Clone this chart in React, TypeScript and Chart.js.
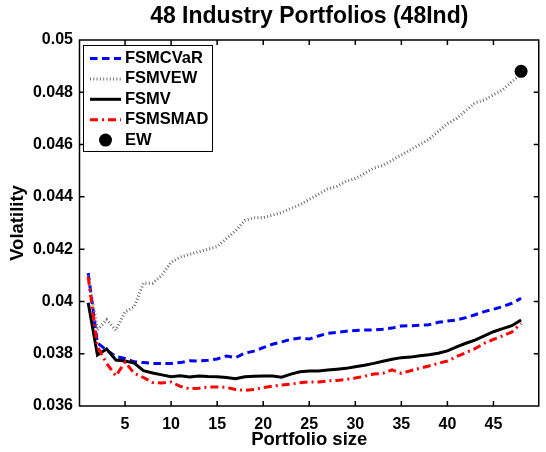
import { useEffect, useRef } from "react"
import { Chart, registerables } from "chart.js"

Chart.register(...registerables)

const FONT = "'Liberation Sans', Arial, Helvetica, sans-serif"

// portfolio sizes on the x axis
const sizes = [
  1, 2, 3, 4, 5, 6, 7, 8, 9, 10, 11, 12, 13, 14, 15, 16, 17, 18, 19, 20, 21, 22, 23, 24,
  25, 26, 27, 28, 29, 30, 31, 32, 33, 34, 35, 36, 37, 38, 39, 40, 41, 42, 43, 44, 45, 46, 47, 48,
]

// volatility
const fsmcvar = [
  0.04109, 0.03841, 0.03814, 0.03789, 0.03782, 0.03769, 0.03766, 0.03763, 0.03762, 0.03763,
  0.03766, 0.03773, 0.03772, 0.03775, 0.0378, 0.03791, 0.03785, 0.03802, 0.0381, 0.03823,
  0.03836, 0.03845, 0.03855, 0.0386, 0.03856, 0.03868, 0.03878, 0.03882, 0.03886, 0.03889,
  0.03891, 0.03891, 0.03894, 0.03898, 0.03906, 0.03907, 0.03909, 0.03911, 0.0392, 0.03925,
  0.03929, 0.03938, 0.03949, 0.03961, 0.0397, 0.0398, 0.03993, 0.04012,
]
const fsmvew = [
  0.041, 0.0389, 0.0393, 0.0389, 0.0396, 0.0398, 0.0407, 0.0407, 0.041, 0.0415,
  0.0417, 0.0418, 0.0419, 0.042, 0.0421, 0.0424, 0.0427, 0.0431, 0.0432, 0.0432,
  0.0433, 0.0434, 0.04356, 0.0437, 0.0439, 0.0441, 0.0443, 0.0444, 0.0446, 0.0447,
  0.0449, 0.0451, 0.0452, 0.0454, 0.0456, 0.0458, 0.046, 0.0462, 0.0465, 0.0468,
  0.047, 0.0473, 0.0476, 0.0477, 0.0479, 0.0481, 0.0484, 0.0487,
]
const fsmv = [
  0.03995, 0.03795, 0.03818, 0.03776, 0.03772, 0.03764, 0.03735, 0.03726, 0.03719, 0.03712,
  0.03716, 0.03711, 0.03715, 0.03713, 0.03712, 0.03709, 0.03704, 0.03712, 0.03714, 0.03715,
  0.03715, 0.0371, 0.03722, 0.03731, 0.03734, 0.03734, 0.03738, 0.03741, 0.03744, 0.0375,
  0.03756, 0.03763, 0.03771, 0.03779, 0.03785, 0.03787, 0.03792, 0.03796, 0.03802, 0.03811,
  0.03826, 0.0384, 0.03852, 0.03868, 0.03884, 0.03896, 0.03907, 0.03929,
]
const fsmsmad = [
  0.04094, 0.03827, 0.03763, 0.03715, 0.03768, 0.03725, 0.03709, 0.0369, 0.03688, 0.03692,
  0.03675, 0.03666, 0.03668, 0.03673, 0.03673, 0.03671, 0.03663, 0.0366, 0.03663, 0.0367,
  0.03676, 0.0368, 0.03684, 0.03689, 0.03692, 0.03692, 0.03696, 0.03698, 0.03702, 0.03707,
  0.03714, 0.03722, 0.03725, 0.03738, 0.03725, 0.03735, 0.03744, 0.03753, 0.03763, 0.03772,
  0.03789, 0.03804, 0.03819, 0.0384, 0.03855, 0.03868, 0.03883, 0.03916,
]
const ewSize = [48]
const ewVol = [0.0488]

const xTicks = [5, 10, 15, 20, 25, 30, 35, 40, 45]
const yTicks = [0.036, 0.038, 0.04, 0.042, 0.044, 0.046, 0.048, 0.05]

const pts = (xs: number[], ys: number[]) => xs.map((x, i) => ({ x, y: ys[i] }))

// box around the axes with inward ticks on all four sides
const matlabAxes = {
  id: "matlabAxes",
  afterDatasetsDraw(chart: any) {
    const { ctx, chartArea: a, scales } = chart
    const L = a.left + 0.5
    const R = a.right - 0.75
    const T = a.top
    const B = a.bottom
    ctx.save()
    ctx.strokeStyle = "#000"
    ctx.lineWidth = 1.5
    ctx.setLineDash([])
    ctx.beginPath()
    ctx.rect(L, T, R - L, B - T)
    for (const v of xTicks) {
      const px = scales.x.getPixelForValue(v)
      ctx.moveTo(px, B)
      ctx.lineTo(px, B - 5)
      ctx.moveTo(px, T)
      ctx.lineTo(px, T + 5)
    }
    for (const v of yTicks) {
      const py = scales.y.getPixelForValue(v)
      ctx.moveTo(L, py)
      ctx.lineTo(L + 5, py)
      ctx.moveTo(R, py)
      ctx.lineTo(R - 5, py)
    }
    ctx.stroke()
    ctx.restore()
  },
}

// legend box in the upper left corner
const boxLegend = {
  id: "boxLegend",
  afterDraw(chart: any) {
    const { ctx } = chart
    const left = 83.5
    const top = 45.5
    const w = 129
    const h = 106
    ctx.save()
    ctx.fillStyle = "#fff"
    ctx.fillRect(left, top, w, h)
    ctx.strokeStyle = "#000"
    ctx.lineWidth = 1
    ctx.setLineDash([])
    ctx.strokeRect(left, top, w, h)
    ctx.font = `bold 16.5px ${FONT}`
    ctx.textBaseline = "middle"
    ctx.textAlign = "left"
    chart.data.datasets.forEach((ds: any, i: number) => {
      const y = 58.5 + i * 20.4
      if (ds.showLine === false) {
        ctx.fillStyle = ds.pointBackgroundColor
        ctx.beginPath()
        ctx.arc(105.5, y, 6.5, 0, Math.PI * 2)
        ctx.fill()
      } else {
        ctx.strokeStyle = ds.borderColor
        ctx.lineWidth = ds.borderWidth
        ctx.setLineDash(ds.borderDash || [])
        ctx.beginPath()
        ctx.moveTo(90, y)
        ctx.lineTo(121, y)
        ctx.stroke()
        ctx.setLineDash([])
      }
      ctx.fillStyle = "#000"
      ctx.fillText(ds.label, 125, y)
    })
    ctx.restore()
  },
}

export default function App() {
  const canvasRef = useRef<HTMLCanvasElement>(null)
  const chartRef = useRef<Chart | null>(null)

  useEffect(() => {
    if (!canvasRef.current) return
    if (chartRef.current) chartRef.current.destroy()

    chartRef.current = new Chart(canvasRef.current, {
      type: "line",
      data: {
        datasets: [
          {
            label: "FSMCVaR",
            data: pts(sizes, fsmcvar),
            borderColor: "#0000ff",
            borderWidth: 3,
            borderDash: [7.5, 4.5],
            pointRadius: 0,
            order: 4,
          },
          {
            label: "FSMVEW",
            data: pts(sizes, fsmvew),
            borderColor: "#707070",
            borderWidth: 3,
            borderDash: [1, 2.3],
            pointRadius: 0,
            order: 3,
          },
          {
            label: "FSMV",
            data: pts(sizes, fsmv),
            borderColor: "#000000",
            borderWidth: 3,
            pointRadius: 0,
            order: 2,
          },
          {
            label: "FSMSMAD",
            data: pts(sizes, fsmsmad),
            borderColor: "#ff0000",
            borderWidth: 3,
            borderDash: [8, 4, 2, 4],
            pointRadius: 0,
            order: 1,
          },
          {
            label: "EW",
            data: pts(ewSize, ewVol),
            showLine: false,
            pointRadius: 6.5,
            pointBackgroundColor: "#000000",
            pointBorderWidth: 0,
            order: 0,
          },
        ] as any,
      },
      options: {
        responsive: true,
        maintainAspectRatio: false,
        animation: false,
        layout: { padding: { top: 0, left: 0, right: 0, bottom: 0 } },
        scales: {
          x: {
            type: "linear",
            min: 0,
            max: 50,
            afterBuildTicks: (s: any) => {
              s.ticks = xTicks.map((v) => ({ value: v }))
            },
            afterFit: (s: any) => {
              s.height = 46
            },
            grid: { display: false, drawTicks: false },
            border: { display: false },
            ticks: {
              color: "#000",
              padding: 9,
              maxRotation: 0,
              font: { family: FONT, size: 16, weight: "bold" },
            },
            title: {
              display: true,
              text: "Portfolio size",
              color: "#000",
              padding: { top: 0, bottom: 1 },
              font: { family: FONT, size: 18.5, weight: "bold" },
            },
          },
          y: {
            type: "linear",
            min: 0.036,
            max: 0.05,
            afterBuildTicks: (s: any) => {
              s.ticks = yTicks.map((v) => ({ value: v }))
            },
            afterFit: (s: any) => {
              s.width = 79
            },
            grid: { display: false, drawTicks: false },
            border: { display: false },
            ticks: {
              color: "#000",
              padding: 6,
              font: { family: FONT, size: 16, weight: "bold" },
              callback: (v: any) => String(parseFloat(Number(v).toFixed(3))),
            },
            title: {
              display: true,
              text: "Volatility",
              color: "#000",
              padding: { top: 7, bottom: 0 },
              font: { family: FONT, size: 18.5, weight: "bold" },
            },
          },
        },
        plugins: {
          legend: { display: false },
          tooltip: { enabled: false },
          title: {
            display: true,
            text: "48 Industry Portfolios (48Ind)",
            fullSize: false,
            color: "#000",
            padding: { top: 3, bottom: 9.4 },
            font: { family: FONT, size: 23, weight: "bold" },
          },
        },
      } as any,
      plugins: [matlabAxes, boxLegend],
    })

    return () => {
      if (chartRef.current) {
        chartRef.current.destroy()
        chartRef.current = null
      }
    }
  }, [])

  return (
    <div style={{ position: "absolute", left: 0, top: 0, width: 546, height: 452, background: "#fff" }}>
      <canvas ref={canvasRef} />
    </div>
  )
}
